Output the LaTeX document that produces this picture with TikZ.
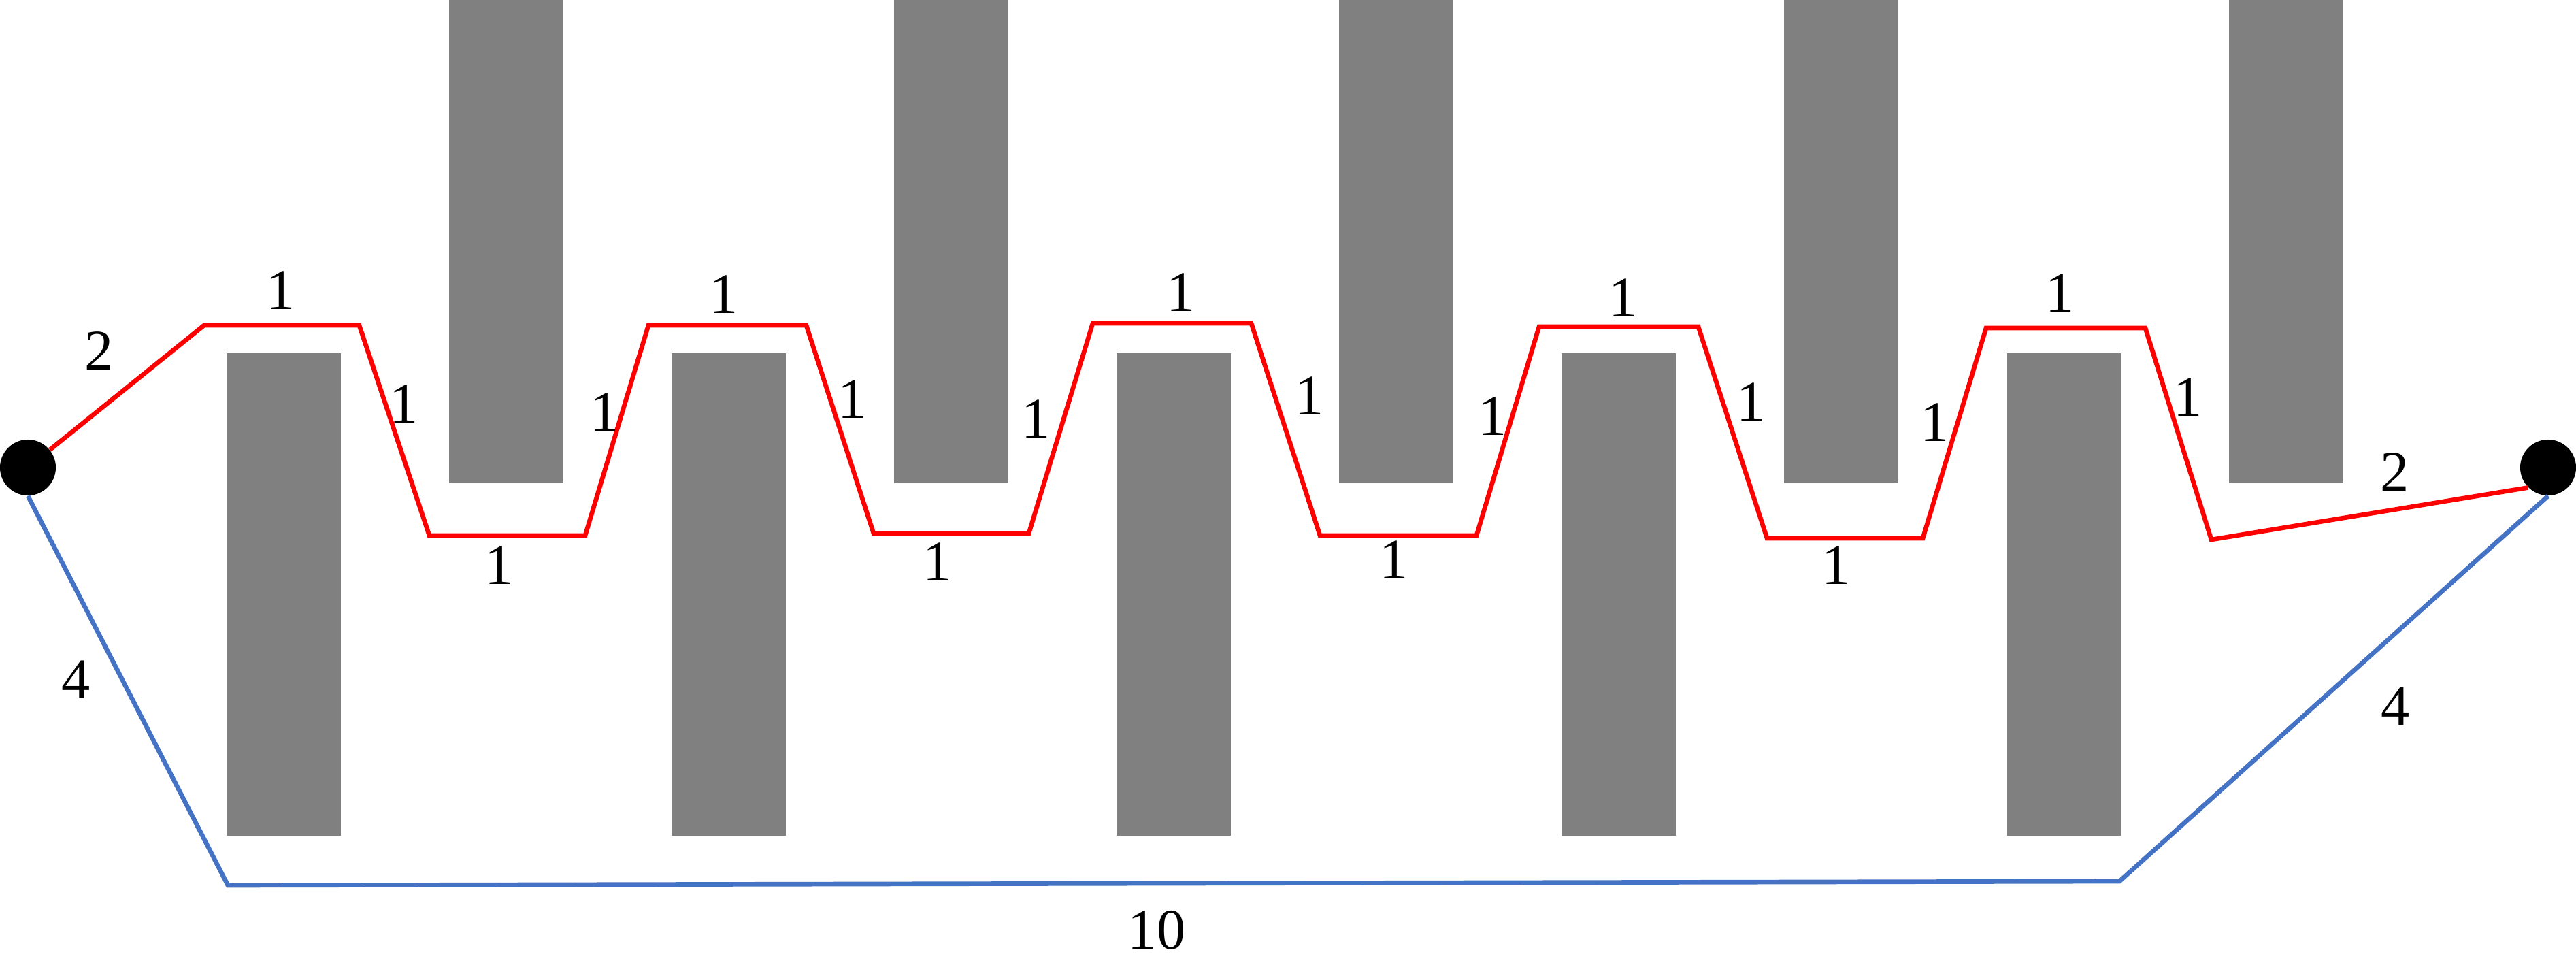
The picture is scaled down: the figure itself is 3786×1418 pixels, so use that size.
\documentclass[tikz,border=0pt]{standalone}
\usepackage{fontspec}
\setmainfont{Liberation Serif}
\definecolor{barGray}{HTML}{808080}
\definecolor{pathRed}{HTML}{FF0000}
\definecolor{pathBlue}{HTML}{4472C4}
\begin{document}
\begin{tikzpicture}[x=0.01cm,y=-0.01cm,
  bar/.style={fill=barGray,draw=none},
  redpath/.style={draw=pathRed,line width=1.9pt,line join=miter},
  bluepath/.style={draw=pathBlue,line width=1.9pt,line join=miter},
  terminal/.style={circle,fill=black,minimum size=0.82cm,inner sep=0pt},
  lbl/.style={font=\fontsize{24}{28}\selectfont,inner sep=0pt}]
\useasboundingbox (0,0) rectangle (3786,1418);
% bars
\foreach \x in {660,1314,1968,2622,3276} \path[bar] (\x,0) rectangle ++(168,710);
\foreach \x in {333,987,1641,2295,2949} \path[bar] (\x,519) rectangle ++(168,709);
% terminals
\node[terminal] (dotL) at (41,687) {};
\node[terminal] (dotR) at (3745,687) {};
% red path vertices
\coordinate (r1) at (300,478);
\coordinate (r2) at (528,478);
\coordinate (r3) at (631,787);
\coordinate (r4) at (860,787);
\coordinate (r5) at (953,478);
\coordinate (r6) at (1185,478);
\coordinate (r7) at (1284,784);
\coordinate (r8) at (1512,784);
\coordinate (r9) at (1606,475);
\coordinate (r10) at (1839,475);
\coordinate (r11) at (1940,787);
\coordinate (r12) at (2170,787);
\coordinate (r13) at (2262,480);
\coordinate (r14) at (2496,480);
\coordinate (r15) at (2597,791);
\coordinate (r16) at (2826,791);
\coordinate (r17) at (2919,482);
\coordinate (r18) at (3153,482);
\coordinate (r19) at (3250,793);
\draw[redpath] (dotL) -- (r1) -- (r2) -- (r3) -- (r4) -- (r5) -- (r6) -- (r7) -- (r8) -- (r9) -- (r10)
  -- (r11) -- (r12) -- (r13) -- (r14) -- (r15) -- (r16) -- (r17) -- (r18) -- (r19) -- (dotR.225);
% blue path
\coordinate (b1) at (335,1301);
\coordinate (b2) at (3115,1295);
\draw[bluepath] (dotL.south) -- (b1) -- (b2) -- (dotR.south);
% labels
\node[lbl] (l2a) at (146,516) {2};
\node[lbl] (l2b) at (3520,694) {2};
\node[lbl] (l4a) at (112,999) {4};
\node[lbl] (l4b) at (3521,1038) {4};
\node[lbl] (l10) at (1700,1367) {10};
% top labels
\node[lbl] (t1) at (413,427) {1};
\node[lbl] (t2) at (1064,433) {1};
\node[lbl] (t3) at (1736,430) {1};
\node[lbl] (t4) at (2386,438) {1};
\node[lbl] (t5) at (3028,431) {1};
% trough labels
\node[lbl] (u1) at (734,831) {1};
\node[lbl] (u2) at (1378,826) {1};
\node[lbl] (u3) at (2049,823) {1};
\node[lbl] (u4) at (2699,831) {1};
% descending labels
\node[lbl] (d1) at (594,594) {1};
\node[lbl] (d2) at (1253,587) {1};
\node[lbl] (d3) at (1925,582) {1};
\node[lbl] (d4) at (2574,591) {1};
\node[lbl] (d5) at (3216,584) {1};
% ascending labels
\node[lbl] (a1) at (889,606) {1};
\node[lbl] (a2) at (1523,616) {1};
\node[lbl] (a3) at (2194,612) {1};
\node[lbl] (a4) at (2844,621) {1};
\end{tikzpicture}
\end{document}
